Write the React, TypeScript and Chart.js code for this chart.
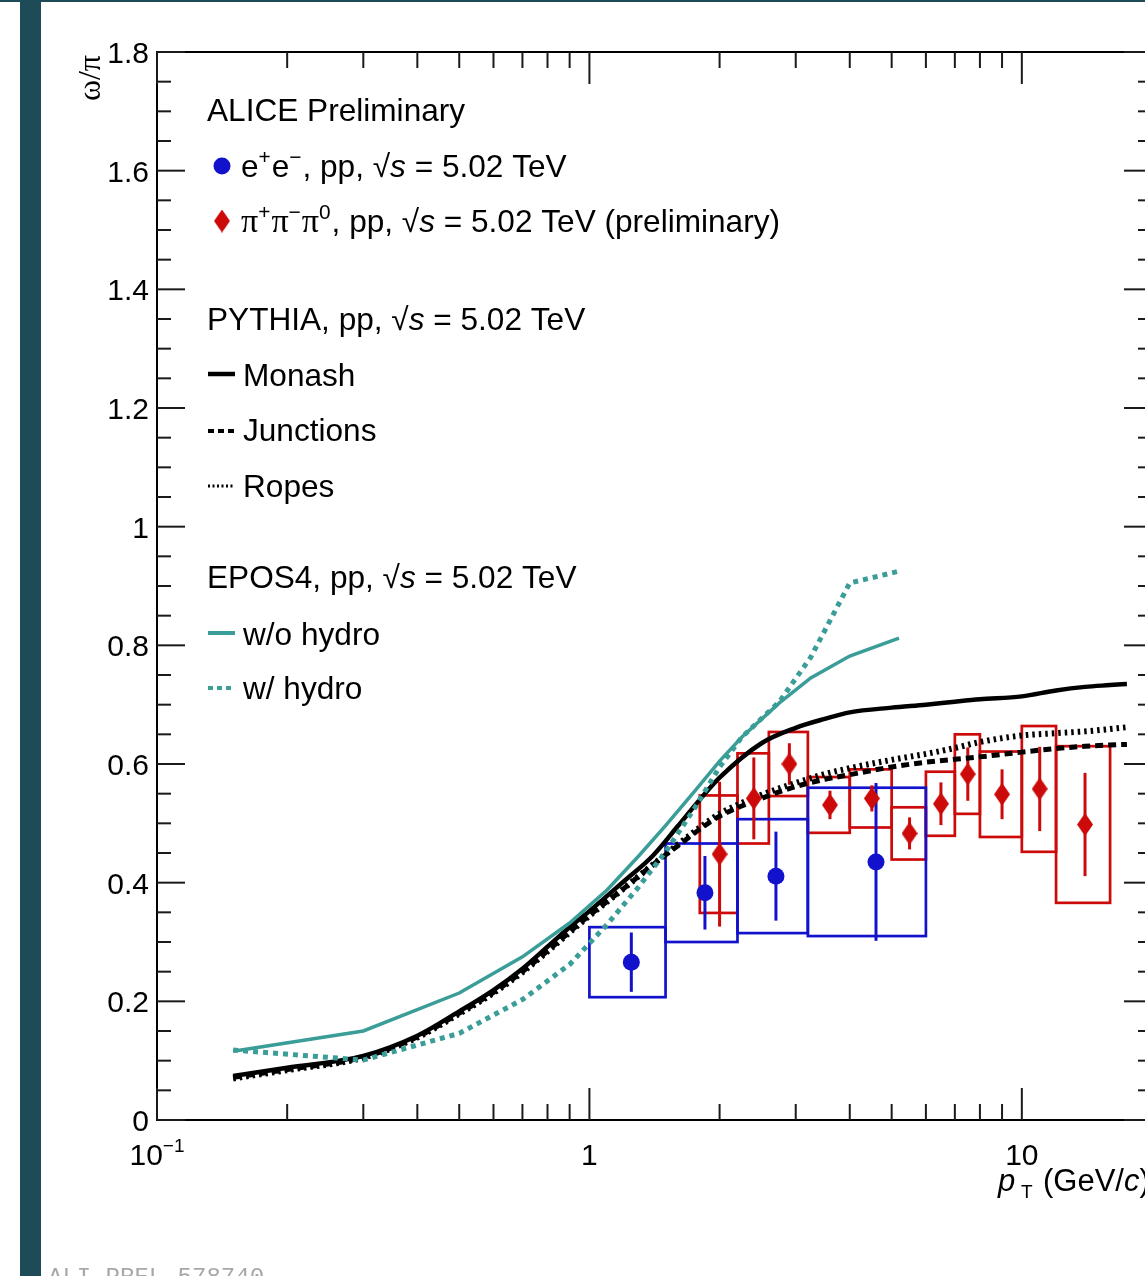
import React, { useEffect, useRef } from 'react';
import { Chart, registerables } from 'chart.js';

Chart.register(...registerables);

// ---------------- data ----------------
// omega -> e+e-, pp 5.02 TeV
const eeBinLow = [1.0, 1.5, 2.2, 3.2];
const eeBinHigh = [1.5, 2.2, 3.2, 6.0];
const eePt = [1.25, 1.85, 2.7, 4.6];
const eeRatio = [0.266, 0.383, 0.411, 0.435];
const eeStat = [0.05, 0.062, 0.075, 0.133];
const eeSyst = [0.059, 0.083, 0.096, 0.125];

// omega -> pi+ pi- pi0, pp 5.02 TeV (preliminary)
const pppBinLow = [1.8, 2.2, 2.6, 3.2, 4.0, 5.0, 6.0, 7.0, 8.0, 10.0, 12.0];
const pppBinHigh = [2.2, 2.6, 3.2, 4.0, 5.0, 6.0, 7.0, 8.0, 10.0, 12.0, 16.0];
const pppPt = [2.0, 2.4, 2.9, 3.6, 4.5, 5.5, 6.5, 7.5, 9.0, 11.0, 14.0];
const pppRatio = [0.448, 0.542, 0.6, 0.531, 0.542, 0.483, 0.533, 0.583, 0.549, 0.558, 0.498];
const pppStat = [0.122, 0.069, 0.035, 0.024, 0.022, 0.027, 0.036, 0.045, 0.042, 0.071, 0.087];
const pppSyst = [0.099, 0.076, 0.054, 0.047, 0.049, 0.044, 0.054, 0.067, 0.072, 0.106, 0.132];

// PYTHIA curves
const pythiaPt = [0.15, 0.2, 0.3, 0.4, 0.5, 0.6, 0.7, 0.8, 0.9, 1.0, 1.2, 1.4, 1.6, 1.8, 2.0, 2.5, 3.0, 3.5, 4.0, 5.0, 6.0, 7.0, 8.0, 10, 12, 14, 16, 17.5];
const monash = [0.074, 0.088, 0.108, 0.142, 0.183, 0.219, 0.255, 0.292, 0.325, 0.352, 0.402, 0.445, 0.495, 0.54, 0.577, 0.635, 0.661, 0.676, 0.687, 0.695, 0.7, 0.705, 0.709, 0.714, 0.724, 0.73, 0.733, 0.735];
const junctions = [0.072, 0.085, 0.106, 0.14, 0.18, 0.215, 0.25, 0.285, 0.317, 0.345, 0.39, 0.43, 0.462, 0.49, 0.512, 0.542, 0.562, 0.574, 0.582, 0.595, 0.603, 0.608, 0.612, 0.62, 0.626, 0.63, 0.632, 0.633];
const ropes = [0.07, 0.084, 0.105, 0.139, 0.179, 0.214, 0.249, 0.284, 0.316, 0.344, 0.39, 0.43, 0.464, 0.493, 0.516, 0.548, 0.568, 0.583, 0.593, 0.607, 0.617, 0.627, 0.637, 0.648, 0.652, 0.655, 0.659, 0.662];

// EPOS4 curves
const eposPt = [0.15, 0.3, 0.5, 0.7, 0.9, 1.1, 1.3, 1.5, 1.75, 2.0, 2.25, 2.75, 3.25, 4.0, 5.2];
const eposNoHydro = [0.116, 0.15, 0.214, 0.275, 0.332, 0.388, 0.445, 0.496, 0.554, 0.605, 0.645, 0.703, 0.745, 0.782, 0.812];
const eposHydro = [0.118, 0.101, 0.146, 0.203, 0.262, 0.33, 0.393, 0.452, 0.525, 0.595, 0.645, 0.705, 0.78, 0.905, 0.925];

// axes
const yMajorTicks = [0, 0.2, 0.4, 0.6, 0.8, 1, 1.2, 1.4, 1.6, 1.8];
const yTickLabels = ['0', '0.2', '0.4', '0.6', '0.8', '1', '1.2', '1.4', '1.6', '1.8'];
const yMinorTicks = [0.05, 0.1, 0.15, 0.25, 0.3, 0.35, 0.45, 0.5, 0.55, 0.65, 0.7, 0.75, 0.85, 0.9, 0.95, 1.05, 1.1, 1.15, 1.25, 1.3, 1.35, 1.45, 1.5, 1.55, 1.65, 1.7, 1.75];
const xMajorTicks = [0.1, 1, 10];
const xTickLabels = ['10', '1', '10'];
const xTickExponents = ['−1', '', ''];
const xMinorTicks = [0.2, 0.3, 0.4, 0.5, 0.6, 0.7, 0.8, 0.9, 2, 3, 4, 5, 6, 7, 8, 9];

// ---------------- styles ----------------
const BLUE = '#1212cc';
const RED = '#cc0a0a';
const TEAL = '#3a9d98';
const SANS = '"Liberation Sans", Arimo, Arial, sans-serif';
const SERIF = '"Liberation Serif", "Times New Roman", serif';

type Seg = { t: string; it?: boolean; serif?: boolean; sup?: boolean; sub?: boolean };

function drawRich(ctx: CanvasRenderingContext2D, x: number, y: number, segs: Seg[], size: number) {
  let cx = x;
  for (const s of segs) {
    let sz = s.sup || s.sub ? size * 0.66 : size;
    if (s.serif) sz *= 1.08;
    ctx.font = `${s.it ? 'italic ' : ''}${sz}px ${s.serif ? SERIF : SANS}`;
    const dy = s.sup ? -size * 0.42 : s.sub ? size * 0.24 : 0;
    ctx.fillText(s.t, cx, y + dy);
    cx += ctx.measureText(s.t).width + (s.sup ? 1 : 0);
  }
  return cx;
}

function makeDiamond(color: string) {
  const c = document.createElement('canvas');
  c.width = 16;
  c.height = 23;
  const g = c.getContext('2d')!;
  g.fillStyle = color;
  g.beginPath();
  g.moveTo(8, 0);
  g.lineTo(16, 11.5);
  g.lineTo(8, 23);
  g.lineTo(0, 11.5);
  g.closePath();
  g.fill();
  return c;
}

const boxesPlugin = {
  id: 'boxes',
  beforeDatasetsDraw(chart: any) {
    const { ctx, scales } = chart;
    const x = scales.x;
    const y = scales.y;
    ctx.save();
    ctx.lineWidth = 2.7;
    ctx.strokeStyle = RED;
    pppPt.forEach((_, i) => {
      const l = x.getPixelForValue(pppBinLow[i]);
      const r = x.getPixelForValue(pppBinHigh[i]);
      const t = y.getPixelForValue(pppRatio[i] + pppSyst[i]);
      const b = y.getPixelForValue(pppRatio[i] - pppSyst[i]);
      ctx.strokeRect(l, t, r - l, b - t);
    });
    ctx.strokeStyle = BLUE;
    eePt.forEach((_, i) => {
      const l = x.getPixelForValue(eeBinLow[i]);
      const r = x.getPixelForValue(eeBinHigh[i]);
      const t = y.getPixelForValue(eeRatio[i] + eeSyst[i]);
      const b = y.getPixelForValue(eeRatio[i] - eeSyst[i]);
      ctx.strokeRect(l, t, r - l, b - t);
    });
    ctx.lineWidth = 3;
    ctx.strokeStyle = RED;
    pppPt.forEach((p, i) => {
      const px = x.getPixelForValue(p);
      ctx.beginPath();
      ctx.moveTo(px, y.getPixelForValue(pppRatio[i] + pppStat[i]));
      ctx.lineTo(px, y.getPixelForValue(pppRatio[i] - pppStat[i]));
      ctx.stroke();
    });
    ctx.strokeStyle = BLUE;
    eePt.forEach((p, i) => {
      const px = x.getPixelForValue(p);
      ctx.beginPath();
      ctx.moveTo(px, y.getPixelForValue(eeRatio[i] + eeStat[i]));
      ctx.lineTo(px, y.getPixelForValue(eeRatio[i] - eeStat[i]));
      ctx.stroke();
    });
    ctx.restore();
  },
};

function makeFramePlugin(diamond: HTMLCanvasElement) {
  return {
    id: 'frame',
    beforeDraw(chart: any) {
      const { ctx, width, height } = chart;
      ctx.save();
      ctx.fillStyle = '#ffffff';
      ctx.fillRect(0, 0, width, height);
      ctx.restore();
    },
    afterDatasetsDraw(chart: any) {
      const { ctx, chartArea: a, scales } = chart;
      const x = scales.x;
      const y = scales.y;
      ctx.save();
      // decorations
      ctx.fillStyle = '#1e4b58';
      ctx.fillRect(20, 0, 21, 1276);
      ctx.fillRect(0, 0, 1200, 2);

      // frame
      ctx.strokeStyle = '#000';
      ctx.lineWidth = 2;
      ctx.strokeRect(a.left, a.top, a.right - a.left, a.bottom - a.top);

      // ticks
      ctx.strokeStyle = '#1a1a1a';
      ctx.lineWidth = 2;
      const hline = (x0: number, x1: number, yy: number) => {
        ctx.beginPath();
        ctx.moveTo(x0, yy);
        ctx.lineTo(x1, yy);
        ctx.stroke();
      };
      const vline = (xx: number, y0: number, y1: number) => {
        ctx.beginPath();
        ctx.moveTo(xx, y0);
        ctx.lineTo(xx, y1);
        ctx.stroke();
      };
      yMajorTicks.forEach((v) => {
        const py = y.getPixelForValue(v);
        hline(a.left, a.left + 28, py);
        hline(a.right - 28, a.right, py);
      });
      yMinorTicks.forEach((v) => {
        const py = y.getPixelForValue(v);
        hline(a.left, a.left + 14, py);
        hline(a.right - 14, a.right, py);
      });
      xMajorTicks.forEach((v) => {
        const px = x.getPixelForValue(v);
        vline(px, a.bottom, a.bottom - 32);
        vline(px, a.top, a.top + 32);
      });
      xMinorTicks.forEach((v) => {
        const px = x.getPixelForValue(v);
        vline(px, a.bottom, a.bottom - 16);
        vline(px, a.top, a.top + 16);
      });

      // tick labels
      ctx.fillStyle = '#000';
      ctx.textBaseline = 'alphabetic';
      ctx.font = `30px ${SANS}`;
      ctx.textAlign = 'right';
      yMajorTicks.forEach((v, i) => {
        ctx.fillText(yTickLabels[i], a.left - 8, y.getPixelForValue(v) + 11);
      });
      ctx.textAlign = 'left';
      xMajorTicks.forEach((v, i) => {
        const px = x.getPixelForValue(v);
        ctx.font = `30px ${SANS}`;
        const w1 = ctx.measureText(xTickLabels[i]).width;
        ctx.font = `19px ${SANS}`;
        const w2 = xTickExponents[i] ? ctx.measureText(xTickExponents[i]).width : 0;
        const x0 = px - (w1 + w2) / 2;
        ctx.font = `30px ${SANS}`;
        ctx.fillText(xTickLabels[i], x0, 1165);
        if (w2) {
          ctx.font = `19px ${SANS}`;
          ctx.fillText(xTickExponents[i], x0 + w1, 1152);
        }
      });

      // axis titles
      ctx.font = `italic 31px ${SANS}`;
      ctx.fillText('p', 998, 1191);
      ctx.font = `19px ${SANS}`;
      ctx.fillText('T', 1021, 1198);
      ctx.font = `31px ${SANS}`;
      let cx = 1043;
      ctx.fillText('(GeV/', cx, 1191);
      cx += ctx.measureText('(GeV/').width;
      ctx.font = `italic 31px ${SANS}`;
      ctx.fillText('c', cx, 1191);
      cx += ctx.measureText('c').width;
      ctx.font = `31px ${SANS}`;
      ctx.fillText(')', cx, 1191);

      ctx.save();
      ctx.translate(100, 55);
      ctx.rotate(-Math.PI / 2);
      ctx.textAlign = 'right';
      ctx.font = `32px ${SERIF}`;
      ctx.fillText('ω/π', 0, 0);
      ctx.restore();

      // legend
      ctx.textAlign = 'left';
      const S = 31.6;
      drawRich(ctx, 207, 121, [{ t: 'ALICE Preliminary' }], S);

      ctx.fillStyle = BLUE;
      ctx.beginPath();
      ctx.arc(222, 166, 8.5, 0, Math.PI * 2);
      ctx.fill();
      ctx.fillStyle = '#000';
      drawRich(ctx, 241, 177, [
        { t: 'e' }, { t: '+', sup: true }, { t: 'e' }, { t: '−', sup: true },
        { t: ', pp, √' }, { t: 's', it: true }, { t: ' = 5.02 TeV' },
      ], S);

      ctx.drawImage(diamond, 222 - 8, 221 - 11.5);
      drawRich(ctx, 241, 232, [
        { t: 'π', serif: true }, { t: '+', sup: true }, { t: 'π', serif: true }, { t: '−', sup: true },
        { t: 'π', serif: true }, { t: '0', sup: true },
        { t: ', pp, √' }, { t: 's', it: true }, { t: ' = 5.02 TeV (preliminary)' },
      ], S);

      drawRich(ctx, 207, 330, [{ t: 'PYTHIA, pp, √' }, { t: 's', it: true }, { t: ' = 5.02 TeV' }], S);
      drawRich(ctx, 207, 588, [{ t: 'EPOS4, pp, √' }, { t: 's', it: true }, { t: ' = 5.02 TeV' }], S);

      const legLine = (yy: number, color: string, w: number, dash: number[]) => {
        ctx.save();
        ctx.strokeStyle = color;
        ctx.lineWidth = w;
        ctx.setLineDash(dash);
        ctx.beginPath();
        ctx.moveTo(208, yy);
        ctx.lineTo(235, yy);
        ctx.stroke();
        ctx.restore();
      };
      legLine(374, '#000', 4.5, []);
      drawRich(ctx, 243, 386, [{ t: 'Monash' }], S);
      legLine(431, '#000', 4, [6, 4]);
      drawRich(ctx, 243, 441, [{ t: 'Junctions' }], S);
      legLine(486, '#000', 3, [2, 2.5]);
      drawRich(ctx, 243, 497, [{ t: 'Ropes' }], S);
      legLine(633, TEAL, 4, []);
      drawRich(ctx, 243, 645, [{ t: 'w/o hydro' }], S);
      legLine(688, TEAL, 4, [5, 4]);
      drawRich(ctx, 243, 699, [{ t: 'w/ hydro' }], S);

      // watermark
      ctx.fillStyle = '#a8a8a8';
      ctx.font = `24px "Liberation Mono", "DejaVu Sans Mono", monospace`;
      ctx.fillText('ALI-PREL-578740', 48, 1284);
      ctx.restore();
    },
  };
}

const pts = (xs: number[], ys: number[]) => xs.map((v, i) => ({ x: v, y: ys[i] }));

export default function App() {
  const ref = useRef<HTMLCanvasElement | null>(null);
  useEffect(() => {
    if (!ref.current) return;
    const diamond = makeDiamond(RED);
    const chart = new Chart(ref.current, {
      type: 'scatter',
      data: {
        datasets: [
          {
            label: 'e+e-', data: pts(eePt, eeRatio), pointStyle: 'circle', pointRadius: 8.5,
            backgroundColor: BLUE, borderWidth: 0, showLine: false, order: 0,
          },
          {
            label: 'pi+pi-pi0', data: pts(pppPt, pppRatio), pointStyle: diamond as any, pointRadius: 10,
            showLine: false, order: 1,
          },
          {
            label: 'Monash', data: pts(pythiaPt, monash), showLine: true, borderColor: '#000',
            borderWidth: 4.5, pointRadius: 0, cubicInterpolationMode: 'monotone', order: 5,
          },
          {
            label: 'Junctions', data: pts(pythiaPt, junctions), showLine: true, borderColor: '#000',
            borderWidth: 5, borderDash: [8, 5], pointRadius: 0, cubicInterpolationMode: 'monotone', order: 5,
          },
          {
            label: 'Ropes', data: pts(pythiaPt, ropes), showLine: true, borderColor: '#000',
            borderWidth: 6, borderDash: [2.5, 4], pointRadius: 0, cubicInterpolationMode: 'monotone', order: 5,
          },
          {
            label: 'w/o hydro', data: pts(eposPt, eposNoHydro), showLine: true, borderColor: TEAL,
            borderWidth: 3.5, pointRadius: 0, order: 4,
          },
          {
            label: 'w/ hydro', data: pts(eposPt, eposHydro), showLine: true, borderColor: TEAL,
            borderWidth: 5, borderDash: [5, 5], pointRadius: 0, order: 4,
          },
        ],
      },
      options: {
        responsive: false,
        animation: false,
        events: [],
        layout: { padding: { left: 157, top: 52, right: 48, bottom: 156 } },
        scales: {
          x: { type: 'logarithmic', min: 0.1, max: 20, display: false },
          y: { type: 'linear', min: 0, max: 1.8, display: false },
        },
        plugins: { legend: { display: false }, tooltip: { enabled: false } },
      },
      plugins: [boxesPlugin, makeFramePlugin(diamond)],
    } as any);
    return () => chart.destroy();
  }, []);

  return (
    <div style={{ position: 'fixed', left: 0, top: 0, width: 1145, height: 1276, overflow: 'hidden', background: '#fff' }}>
      <canvas ref={ref} width={1200} height={1276} style={{ display: 'block' }} />
    </div>
  );
}
